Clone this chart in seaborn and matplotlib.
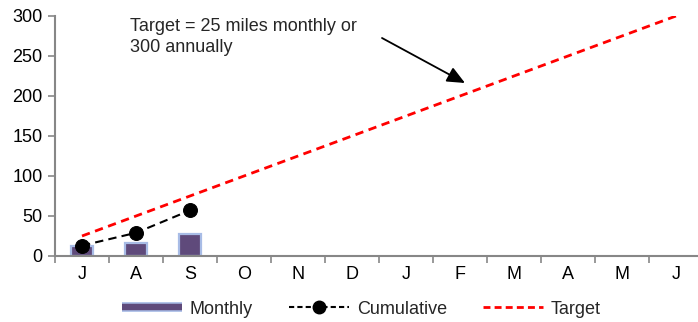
import numpy as np
import pandas as pd
import matplotlib
matplotlib.use("Agg")
import matplotlib.pyplot as plt
import matplotlib.patheffects as pe
from matplotlib.lines import Line2D
import seaborn as sns

# Months of the year (July to June)
month_labels = ["J", "A", "S", "O", "N", "D", "J", "F", "M", "A", "M", "J"]
month_pos = list(range(len(month_labels)))

# Miles logged so far
monthly_miles = [12, 16, 28]
cumulative_miles = [13, 29, 57]

# Target: 25 miles per month, 300 for the year
target_miles = [25, 50, 75, 100, 125, 150, 175, 200, 225, 250, 275, 300]

sns.set_theme(style="white")
plt.rcParams["font.family"] = ["Liberation Sans", "DejaVu Sans"]

fig = plt.figure(figsize=(6.98, 3.22), dpi=100)
ax = fig.add_axes([55 / 698, 1 - 256 / 322, 648 / 698, 240 / 322])

actual = pd.DataFrame({"pos": month_pos[:len(monthly_miles)],
                       "monthly": monthly_miles,
                       "cumulative": cumulative_miles})
target = pd.DataFrame({"pos": month_pos, "target": target_miles})

bar_fill = "#5f4a7b"
bar_edge = "#a8bce6"

sns.barplot(data=actual, x="pos", y="monthly", native_scale=True, width=0.4,
            color=bar_fill, edgecolor=bar_edge, linewidth=1.6, saturation=1,
            ax=ax, zorder=2)
sns.lineplot(data=target, x="pos", y="target", color="#ff0000", linewidth=2,
             linestyle=(0, (3, 2)), ax=ax, zorder=3)
sns.lineplot(data=actual, x="pos", y="cumulative", color="black", linewidth=1.5,
             linestyle=(0, (4, 2.5)), marker="o", markersize=10,
             markeredgecolor="black", ax=ax, zorder=4)

ax.set_xlim(-0.5, 11.5)
ax.set_ylim(0, 300)
ax.set_yticks(range(0, 301, 50))
ax.set_xticks(month_pos)
ax.set_xticklabels(month_labels)
ax.set_xticks(np.arange(-0.5, 12, 1), minor=True)
ax.set_xlabel("")
ax.set_ylabel("")

axis_grey = "#878787"
for side in ["top", "right"]:
    ax.spines[side].set_visible(False)
for side in ["left", "bottom"]:
    ax.spines[side].set_color(axis_grey)
    ax.spines[side].set_linewidth(1.5)

ax.tick_params(axis="y", which="major", left=True, length=5, width=1.2,
               color=axis_grey, labelsize=13, pad=4, labelcolor="black")
ax.tick_params(axis="x", which="major", bottom=False, length=0, labelsize=13,
               pad=7, labelcolor="black")
ax.tick_params(axis="x", which="minor", bottom=True, length=5, width=1.2,
               color=axis_grey)

fig.text(130 / 698, 1 - 37 / 322, "Target = 25 miles monthly or\n300 annually",
         fontsize=13, va="center", ha="left", linespacing=1.24)
ax.annotate("", xy=(465, 322 - 83), xytext=(382, 322 - 38),
            xycoords="figure pixels", textcoords="figure pixels",
            arrowprops=dict(arrowstyle="-|>,head_length=0.9,head_width=0.4",
                            color="black", lw=1.3, shrinkA=0, shrinkB=0))

handles = [
    Line2D([0], [0], color=bar_fill, linewidth=4.5, solid_capstyle="butt",
           path_effects=[pe.withStroke(linewidth=7, foreground=bar_edge,
                                       capstyle="butt"), pe.Normal()]),
    Line2D([0], [0], color="black", linewidth=1.5, linestyle=(0, (2.5, 1.5)),
           marker="o", markersize=9),
    Line2D([0], [0], color="#ff0000", linewidth=2, linestyle=(0, (2.5, 1.5))),
]
fig.legend(handles, ["Monthly", "Cumulative", "Target"], loc="center",
           bbox_to_anchor=(361.5 / 698, 1 - 309 / 322), ncol=3, frameon=False,
           fontsize=13, handlelength=3.3, handletextpad=0.45, columnspacing=2.0)

fig.savefig("out.png", dpi=100)
